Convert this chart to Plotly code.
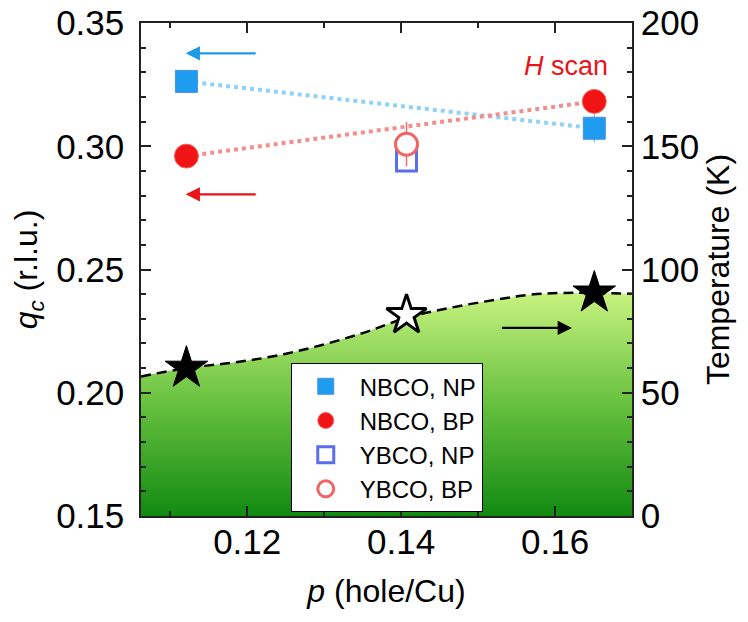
import plotly.graph_objects as go

# ---------------- data ----------------
p_nbco = [0.1121, 0.1651]
qc_nbco_np = [0.3263, 0.3073]
qc_nbco_bp = [0.2960, 0.3182]
err_nbco_np = [0.004, 0.0057]
err_nbco_bp = [0.004, 0.005]

p_ybco = [0.1407]
qc_ybco_np = [0.2940]
qc_ybco_bp = [0.3008]
err_ybco_bp = [0.009]

p_tc_filled = [0.1121, 0.1651]
tc_filled = [60.0, 90.5]
p_tc_open = [0.1407]
tc_open = [81.5]

p_dome = [0.1062, 0.1121, 0.1178, 0.1234, 0.1290, 0.1351, 0.1407, 0.1463,
          0.1524, 0.1568, 0.1611, 0.1700]
tc_dome = [56.6, 60.0, 62.1, 64.8, 68.8, 74.3, 80.4, 84.4, 87.8, 89.8, 90.5, 90.2]

FONT = "Liberation Sans, Arial, sans-serif"
BLUE = "#1e9cf0"
RED = "#f01414"

fig = go.Figure()

# Tc dome (right axis) with vertical green gradient
fig.add_trace(go.Scatter(
    x=p_dome, y=tc_dome, yaxis="y2", mode="lines",
    line=dict(color="black", width=2.5, dash="10px,6px", shape="spline"),
    fill="tozeroy",
    fillgradient=dict(type="vertical", start=0, stop=90,
                      colorscale=[[0, "#128a12"], [0.5, "#66c03e"], [1, "#c6f27e"]]),
    showlegend=False, hoverinfo="skip"))

# dotted connecting lines
fig.add_trace(go.Scatter(x=p_nbco, y=qc_nbco_np, mode="lines",
                         line=dict(color="#8fd2f7", width=4, dash="dot"),
                         showlegend=False))
fig.add_trace(go.Scatter(x=p_nbco, y=qc_nbco_bp, mode="lines",
                         line=dict(color="#f28e8e", width=4, dash="dot"),
                         showlegend=False))

# q_c markers
fig.add_trace(go.Scatter(
    x=p_nbco, y=qc_nbco_np, mode="markers", name="NBCO, NP",
    error_y=dict(type="data", array=err_nbco_np, color="#7fc4f4", thickness=1.5, width=0),
    marker=dict(symbol="square", size=22, color=BLUE, line=dict(color="#4a8fe6", width=1))))
fig.add_trace(go.Scatter(
    x=p_nbco, y=qc_nbco_bp, mode="markers", name="NBCO, BP",
    error_y=dict(type="data", array=err_nbco_bp, color="#f5a0a0", thickness=1.5, width=0),
    marker=dict(symbol="circle", size=24, color=RED, line=dict(color="#f36a6a", width=1))))
fig.add_trace(go.Scatter(
    x=p_ybco, y=qc_ybco_np, mode="markers", name="YBCO, NP",
    marker=dict(symbol="square", size=20, color="white", line=dict(color="#5a6fef", width=3))))
fig.add_trace(go.Scatter(
    x=p_ybco, y=qc_ybco_bp, mode="markers", name="YBCO, BP",
    error_y=dict(type="data", array=err_ybco_bp, color="#f07070", thickness=1.5, width=0),
    marker=dict(symbol="circle", size=22, color="white", line=dict(color="#f06464", width=3))))

# Tc stars
fig.add_trace(go.Scatter(x=p_tc_filled, y=tc_filled, yaxis="y2", mode="markers",
                         marker=dict(symbol="star", size=32, color="black",
                                     line=dict(color="black", width=1)),
                         showlegend=False))
fig.add_trace(go.Scatter(x=p_tc_open, y=tc_open, yaxis="y2", mode="markers",
                         marker=dict(symbol="star", size=30, color="white",
                                     line=dict(color="black", width=3)),
                         showlegend=False))

# arrows
arrows = [
    # (x_tail, x_head, y, yref, color)
    (0.1213, 0.1120, 0.3377, "y", "#1e9be6"),
    (0.1213, 0.1120, 0.2805, "y", "#e8141a"),
    (0.1529, 0.1622, 76.3, "y2", "black"),
]
for xt, xh, yy, yr, col in arrows:
    fig.add_annotation(x=xh, y=yy, ax=xt, ay=yy, xref="x", yref=yr, axref="x", ayref=yr,
                       text="", showarrow=True, arrowhead=2, arrowsize=1.3,
                       arrowwidth=2.2, arrowcolor=col)

fig.add_annotation(x=0.1671, y=0.3326, xref="x", yref="y", xanchor="right", yanchor="middle",
                   text="<i>H</i> scan", showarrow=False,
                   font=dict(family=FONT, size=27, color="#e8141a"))

tickfont = dict(family=FONT, size=35, color="black")
titlefont = dict(family=FONT, size=32, color="black")
axcommon = dict(showline=True, linecolor="#222", linewidth=1.5, ticks="inside",
                ticklen=10, tickwidth=1.5, tickcolor="#222", showgrid=False,
                zeroline=False, tickfont=tickfont, automargin=False)

fig.update_layout(
    width=748, height=622,
    margin=dict(l=141, r=116, t=23, b=106),
    paper_bgcolor="white", plot_bgcolor="white",
    font=dict(family=FONT, color="black"),
    xaxis=dict(range=[0.1062, 0.1700], dtick=0.02, tick0=0, mirror="ticks",
               minor=dict(dtick=0.01, ticks="inside", ticklen=5, tickwidth=1.5, tickcolor="#222"),
               title=dict(text="<i>p</i> (hole/Cu)", font=titlefont, standoff=20),
               ticklabelstandoff=-6, **axcommon),
    yaxis=dict(range=[0.15, 0.35], dtick=0.05, tickformat=".2f",
               minor=dict(dtick=0.01, ticks="inside", ticklen=5, tickwidth=1.5, tickcolor="#222"),
               title=dict(text="<i>q</i><sub><i>c</i></sub> (r.l.u.)", font=titlefont, standoff=9),
               ticklabelstandoff=8, **axcommon),
    yaxis2=dict(range=[0, 200], dtick=50, overlaying="y", side="right",
                minor=dict(dtick=10, ticks="inside", ticklen=5, tickwidth=1.5, tickcolor="#222"),
                title=dict(text="Temperature (K)", font=titlefont, standoff=8),
                ticklabelstandoff=0, **axcommon),
    legend=dict(x=0.305, y=0.31, xanchor="left", yanchor="top",
                bgcolor="white", bordercolor="black", borderwidth=1,
                font=dict(family=FONT, size=24, color="black"),
                itemwidth=58, tracegroupgap=0),
    showlegend=True,
)

fig.write_html("out.html")
